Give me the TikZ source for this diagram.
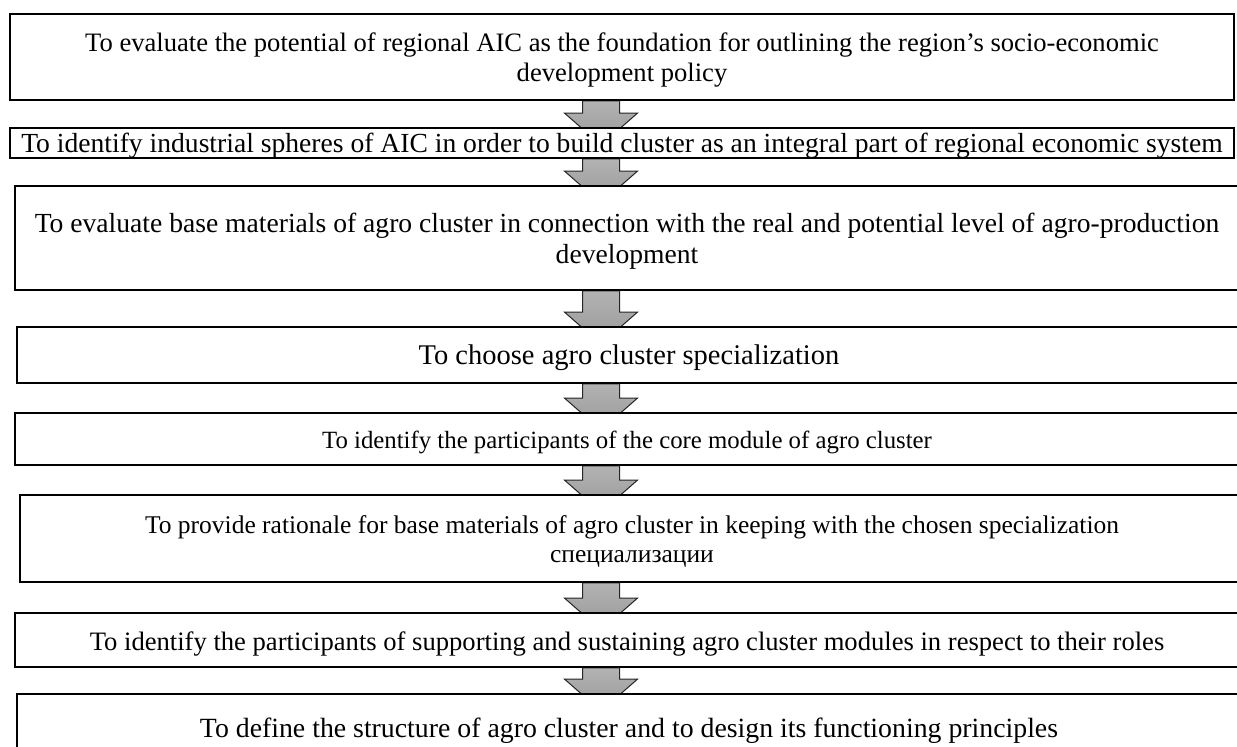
\documentclass[tikz,border=0pt]{standalone}
\usepackage{fontspec}
\setmainfont{Liberation Serif}
\usetikzlibrary{calc}
\pgfdeclarelayer{bg}
\pgfsetlayers{bg,main}
\tikzset{
  boxframe/.style={draw=black, line width=1.8pt, fill=white, rectangle, inner sep=0pt, minimum width=1224pt},
  boxtext/.style={align=center, inner sep=0pt},
  fs/.style 2 args={font=\fontsize{#1}{#2}\selectfont},
  arrowbody/.style={top color=gray!60, middle color=gray!22, bottom color=gray!80, draw=black!85, line width=1pt},
}
\newcommand{\blockarrow}[2]{%
  \path[arrowbody] let \p1=(#1), \p2=(#2) in
    ({\x1-18.5pt},{\y1}) -- ({\x1+18.5pt},{\y1}) -- ({\x1+18.5pt},{\y2+14pt}) --
    ({\x1+36.5pt},{\y2+14pt}) -- ({\x1},{\y2-18pt}) -- ({\x1-36.5pt},{\y2+14pt}) --
    ({\x1-18.5pt},{\y2+14pt}) -- cycle;}
\begin{document}
\begin{tikzpicture}[x=1pt,y=-1pt]
\path[use as bounding box] (0,0) rectangle (1237,747);
\begin{pgfonlayer}{bg}
\fill[white] (0,0) rectangle (1237,747);
\end{pgfonlayer}
% boxes
\node[boxframe, minimum height=86pt] (b1) at (622,57) {};
\node[boxframe, minimum height=30pt] (b2) at (622,143) {};
\node[boxframe, minimum height=104pt] (b3) at (627,238) {};
\node[boxframe, minimum height=56pt] (b4) at (629,355) {};
\node[boxframe, minimum height=52pt] (b5) at (627,439) {};
\node[boxframe, minimum height=87pt] (b6) at (632,538.5) {};
\node[boxframe, minimum height=54pt] (b7) at (627,640) {};
\node[boxframe, minimum height=68pt] (b8) at (629,728) {};
\coordinate (ax) at (601,0);
% texts
\node[boxtext, fs={26.6}{30}] (t1) at (622,60) {To evaluate the potential of regional AIC as the foundation for outlining the region’s socio-economic\\development policy};
\node[boxtext, fs={27.6}{31}] (t2) at (622,146) {To identify industrial spheres of AIC in order to build cluster as an integral part of regional economic system};
\node[boxtext, fs={27.6}{31}] (t3) at (627,241) {To evaluate base materials of agro cluster in connection with the real and potential level of agro-production\\development};
\node[boxtext, fs={28.5}{32}] (t4) at (629,358) {To choose agro cluster specialization};
\node[boxtext, fs={24.8}{28}] (t5) at (627,442) {To identify the participants of the core module of agro cluster};
\node[boxtext, fs={25.5}{29}] (t6) at (632,541.5) {To provide rationale for base materials of agro cluster in keeping with the chosen specialization\\специализации};
\node[boxtext, fs={26.6}{30}] (t7) at (627,643.5) {To identify the participants of supporting and sustaining agro cluster modules in respect to their roles};
\node[boxtext, fs={27.8}{31}] (t8) at (629,731) {To define the structure of agro cluster and to design its functioning principles};
% arrows (behind the boxes)
\begin{pgfonlayer}{bg}
\blockarrow{b1.south -| ax}{b2.north -| ax}
\blockarrow{b2.south -| ax}{b3.north -| ax}
\blockarrow{b3.south -| ax}{b4.north -| ax}
\blockarrow{b4.south -| ax}{b5.north -| ax}
\blockarrow{b5.south -| ax}{b6.north -| ax}
\blockarrow{b6.south -| ax}{b7.north -| ax}
\blockarrow{b7.south -| ax}{b8.north -| ax}
\end{pgfonlayer}
\end{tikzpicture}
\end{document}
